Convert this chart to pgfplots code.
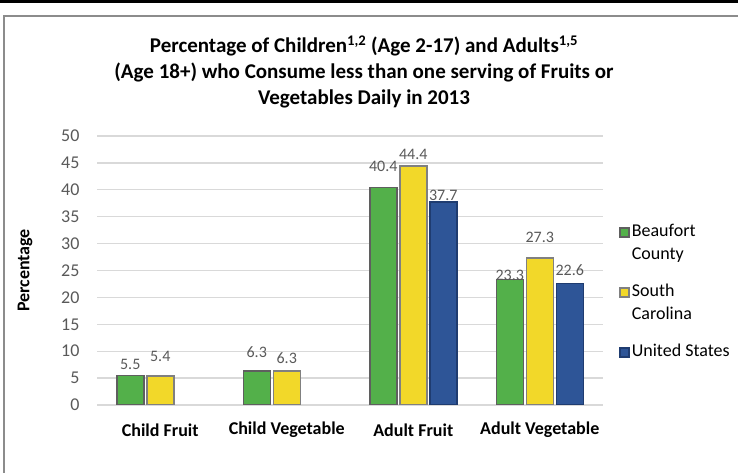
\documentclass[border=0pt]{standalone}
\usepackage{fontspec}
\setmainfont{Carlito}
\usepackage{pgfplots}
\pgfplotsset{compat=1.18}
\usepackage{pgfplotstable}
\definecolor{cgreen}{HTML}{53B04A}
\definecolor{cyellow}{HTML}{F2D829}
\definecolor{cblue}{HTML}{2E5597}
\definecolor{cbluedark}{HTML}{1F3C70}
\definecolor{cedge}{HTML}{5F5F5F}
\definecolor{cedgey}{HTML}{808080}
\definecolor{ctick}{HTML}{595959}
\definecolor{cgrid}{HTML}{D9D9D9}
\definecolor{cframe}{HTML}{8C8C8C}

\pgfplotstableread{
x y off
0 5.5 11
1 6.3 19
2 40.4 21
3 23.3 4
}\tBeaufort
\pgfplotstableread{
x y off
0 5.4 20
1 6.3 13
2 44.4 12
3 27.3 21
}\tSouth
\pgfplotstableread{
x y off
2 37.7 7
3 22.6 13
}\tUS

\begin{document}
\begin{tikzpicture}[x=1pt,y=1pt]
\useasboundingbox (0,0) rectangle (738,473);
\fill[black] (0,470) rectangle (738,473);
\draw[line width=2pt, color=cframe] (4,0) -- (4,457) -- (738,457);
\node[align=center, font=\fontsize{21}{26}\selectfont\bfseries] at (364,401)
  {Percentage of Children\textsuperscript{1,2} (Age 2-17) and Adults\textsuperscript{1,5}\\(Age 18+) who Consume less than one serving of Fruits or\\Vegetables Daily in 2013};
\begin{axis}[
  at={(97pt,68pt)}, anchor=south west,
  scale only axis, width=506pt, height=269pt,
  xmin=-0.5, xmax=3.5, ymin=0, ymax=50,
  ytick={0,5,...,50},
  xtick={0,1,2,3},
  xticklabels={Child Fruit, Child Vegetable, Adult Fruit, Adult Vegetable},
  axis line style={draw=none},
  major tick length=0pt,
  ymajorgrids, grid style={cgrid, line width=1.3pt},
  /pgf/number format/assume math mode=true,
  yticklabel style={font=\fontsize{18}{18}\selectfont, color=ctick, xshift=-14pt},
  xticklabel style={font=\fontsize{18}{18}\selectfont\bfseries, anchor=center, yshift=-25pt},
  ylabel={Percentage},
  ylabel style={at={(axis description cs:-0.142,0.5)}, anchor=center, font=\fontsize{18}{18}\selectfont\bfseries},
  ybar, bar width=27pt,
  legend cell align=left,
  legend style={at={(axis description cs:1.026,0.687)}, anchor=north west, draw=none, fill=none,
    font=\fontsize{18}{23}\selectfont, row sep=19pt, cells={anchor=base west, align=left},
    /tikz/every even column/.append style={column sep=7pt}},
  nodes near coords={\pgfmathprintnumber[fixed,fixed zerofill,precision=1]{\pgfplotspointmeta}},
  nodes near coords align={anchor=center},
  every node near coord/.append style={font=\fontsize{16}{16}\selectfont, color=ctick},
  visualization depends on={\thisrow{off} \as \myoff},
  nodes near coords style={yshift=\myoff pt},
]
\addplot[fill=cgreen, draw=cedge, line width=1.5pt, bar shift=-30pt,
  legend image code/.code={\draw[fill=cgreen, draw=cedge, line width=1.5pt] (0pt,22.5pt) rectangle (9pt,31.5pt);}]
  table[x=x, y=y] {\tBeaufort};
\addlegendentry{Beaufort\\County}
\addplot[fill=cyellow, draw=cedgey, line width=1.5pt, bar shift=0pt,
  legend image code/.code={\draw[fill=cyellow, draw=cedgey, line width=1.5pt] (0pt,22.5pt) rectangle (9pt,31.5pt);}]
  table[x=x, y=y] {\tSouth};
\addlegendentry{South\\Carolina}
\addplot[fill=cblue, draw=cbluedark, line width=1.5pt, bar shift=30pt,
  legend image code/.code={\draw[fill=cblue, draw=cbluedark, line width=1.5pt] (0pt,-0.5pt) rectangle (9pt,8.5pt);}]
  table[x=x, y=y] {\tUS};
\addlegendentry{United States}
\end{axis}
\end{tikzpicture}
\end{document}
